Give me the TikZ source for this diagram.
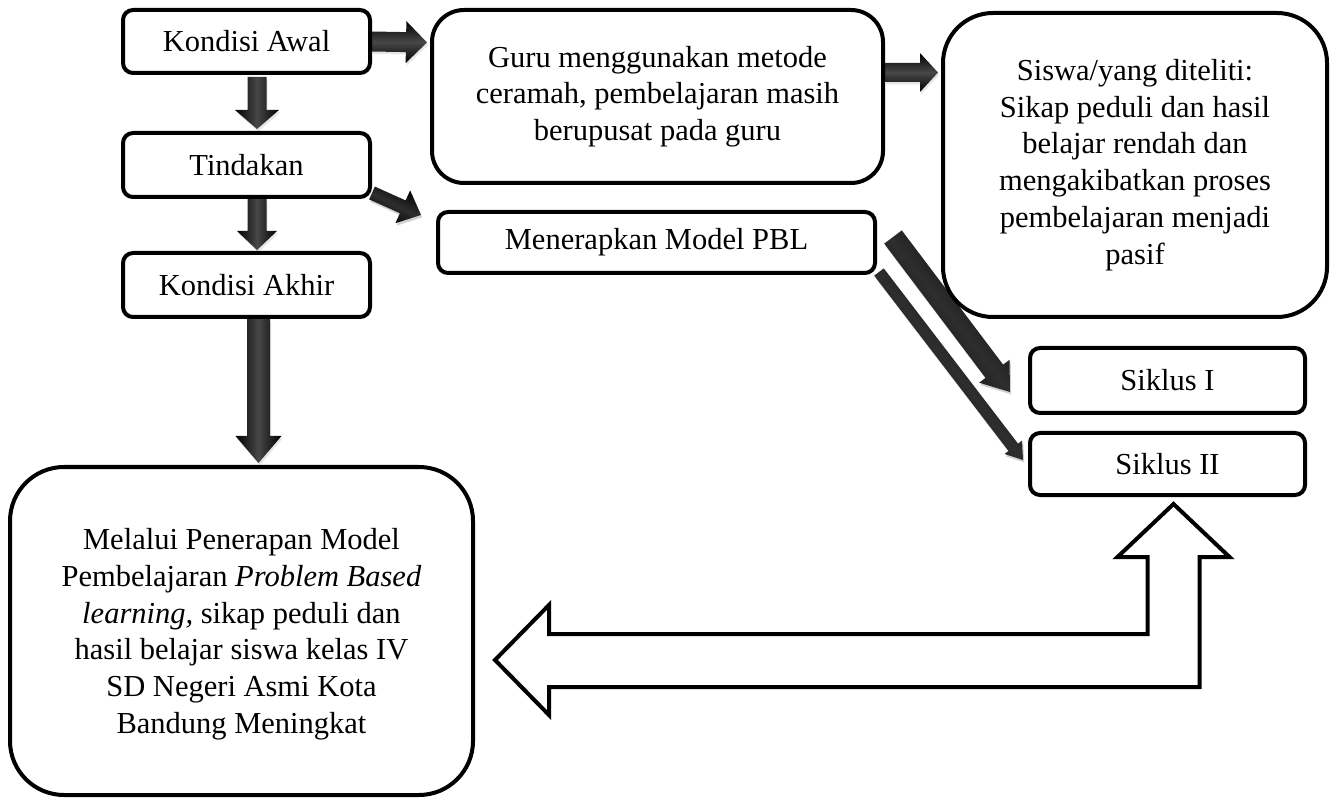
\documentclass[tikz,border=0pt]{standalone}
\usepackage{fontspec}
\setmainfont{Liberation Serif}
\usetikzlibrary{calc,shadows,backgrounds}

\tikzset{
  box/.style={draw=black, line width=2pt, fill=white, rounded corners=5pt,
    inner sep=0pt, align=center, font=\fontsize{15.25pt}{18.35pt}\selectfont},
  solidarrow/.style={top color=black, bottom color=black, middle color=black!72,
    drop shadow={opacity=0.2, shadow xshift=0.6pt, shadow yshift=-1.2pt}},
  diagarrow/.style={solidarrow, middle color=black!82},
  hollowarrow/.style={draw=black, line width=2pt, fill=white, line join=miter},
}

% block arrow: #1 options, #2 start, #3 tip, #4 shaft half width,
% #5 head half width, #6 head length
\newcommand\blockarrow[6]{%
  \coordinate (ba-h) at ($(#3)!#6!(#2)$);
  \path[solidarrow,#1]
    ($(#2)!#4!90:(#3)$) -- ($(ba-h)!#4!90:(#3)$) -- ($(ba-h)!#5!90:(#3)$)
    -- (#3)
    -- ($(ba-h)!#5!-90:(#3)$) -- ($(ba-h)!#4!-90:(#3)$) -- ($(#2)!#4!-90:(#3)$)
    -- cycle;
}

\begin{document}
\begin{tikzpicture}[x=0.5pt,y=-0.5pt]
\useasboundingbox (0,0) rectangle (1333,807);

% left column
\node[box, minimum width=123.5pt, minimum height=31.5pt] (ka) at (246.5,41.5) {Kondisi Awal};
\node[box, minimum width=123.5pt, minimum height=32pt] (tin) at (246.5,165) {Tindakan};
\node[box, minimum width=123.5pt, minimum height=32pt] (kak) at (246.5,285) {Kondisi Akhir};

% top row
\node[box, rounded corners=16pt, minimum width=225.5pt, minimum height=86.5pt] (guru) at (657.5,96.5)
  {Guru menggunakan metode\\ceramah, pembelajaran masih\\berupusat pada guru};
\node[box, rounded corners=25pt, minimum width=192pt, minimum height=152pt] (siswa) at (1135,165)
  {Siswa/yang diteliti:\\Sikap peduli dan hasil\\belajar rendah dan\\mengakibatkan proses\\pembelajaran menjadi\\pasif};

% action and cycles
\node[box, minimum width=218.5pt, minimum height=30.5pt] (pbl) at (656.5,242.5) {Menerapkan Model PBL};
\node[box, minimum width=137.5pt, minimum height=32.5pt] (s1) at (1167.5,380.5) {Siklus I};
\node[box, minimum width=137.5pt, minimum height=31pt] (s2) at (1167.5,464) {Siklus II};

% outcome
\node[box, rounded corners=27pt, minimum width=231.5pt, minimum height=164pt,
  text depth=-6pt] (mel) at (241.5,631)
  {Melalui Penerapan Model\\Pembelajaran \textit{Problem Based}\\\textit{learning,} sikap peduli dan\\hasil belajar siswa kelas IV\\SD Negeri Asmi Kota\\Bandung Meningkat};

\begin{scope}[on background layer]
  % vertical flow
  \coordinate (v1s) at ($(ka.south)+(10.5,2)$);
  \coordinate (v1e) at ($(tin.north)+(10.5,-2)$);
  \blockarrow{shading angle=90}{v1s}{v1e}{4.75pt}{11pt}{9.5pt}
  \coordinate (v2s) at ($(tin.south)+(10.5,0)$);
  \coordinate (v2e) at ($(kak.north)+(10.5,-1)$);
  \blockarrow{shading angle=90}{v2s}{v2e}{4.75pt}{10pt}{9.5pt}
  \coordinate (v3s) at ($(kak.south)+(12,0)$);
  \coordinate (v3e) at ($(mel.north)+(17,-2)$);
  \blockarrow{shading angle=90}{v3s}{v3e}{5.75pt}{11.5pt}{13.5pt}

  % horizontal flow
  \coordinate (h1s) at (ka.east);
  \coordinate (h1e) at ($(guru.west |- ka.east)+(-3,1)$);
  \blockarrow{}{h1s}{h1e}{5pt}{10.5pt}{10.5pt}
  \coordinate (h2s) at ($(guru.east)+(0,-24)$);
  \coordinate (h2e) at ($(siswa.west |- guru.east)+(-3,-24)$);
  \blockarrow{}{h2s}{h2e}{4.75pt}{9.75pt}{9pt}

  % diagonal flow
  \coordinate (d1s) at ($(tin.south east)+(0,-6)$);
  \coordinate (d1e) at ($(pbl.north west)+(-15,5)$);
  \blockarrow{diagarrow, shading angle=-26}{d1s}{d1e}{3.5pt}{9pt}{10pt}
  \coordinate (d2s) at ($(pbl.east)+(16,-5.5)$);
  \coordinate (d2e) at ($(s1.west)+(-18,11.5)$);
  \blockarrow{diagarrow, shading angle=-52}{d2s}{d2e}{5.5pt}{9.5pt}{13pt}
  \coordinate (d3s) at ($(pbl.south east)+(2,-3)$);
  \coordinate (d3e) at ($(s2.west)+(-5,-4)$);
  \blockarrow{diagarrow, shading angle=-52}{d3s}{d3e}{3pt}{5.5pt}{8pt}
\end{scope}

% hollow return arrow from the cycles to the outcome
\coordinate (lt) at ($(mel.east)+(20,29)$);
\coordinate (ut) at ($(s2.south)+(6,7)$);
\draw[hollowarrow] (lt) -- ++(54,-55) -- ++(0,29) coordinate (p1)
  -- ($(p1 -| ut)+(-26,0)$) -- ($(ut)+(-26,53)$) -- ($(ut)+(-56,53)$)
  -- (ut)
  -- ($(ut)+(56,53)$) -- ($(ut)+(26,53)$) -- ($(lt -| ut)+(26,27)$)
  -- ($(lt)+(54,27)$) -- ($(lt)+(54,55)$) -- cycle;

\end{tikzpicture}
\end{document}
